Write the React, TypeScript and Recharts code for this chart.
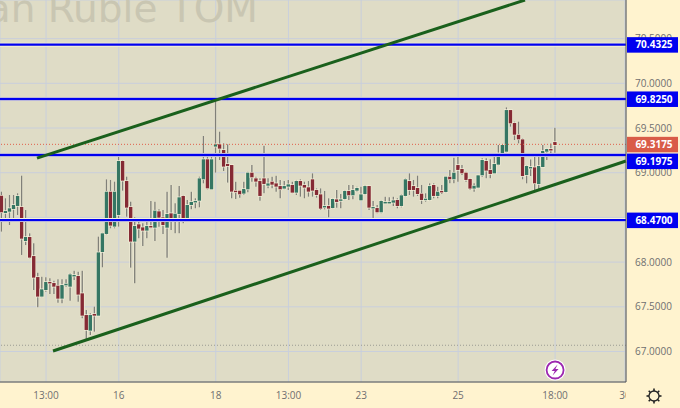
import { Bar, CartesianGrid, ComposedChart, ReferenceDot, ReferenceLine, XAxis, YAxis } from "recharts";

const opens = [
  68.743, 68.549, 68.564, 68.594, 68.628, 68.617, 68.236, 68.281, 68.068, 67.833, 67.614, 67.688, 67.778, 67.766, 67.737, 67.591, 67.74, 67.725, 67.845, 67.845,
  67.651, 67.408, 67.233, 67.42, 67.401, 68.113, 68.315, 68.788, 68.397, 68.527, 69.131, 68.907, 68.617, 68.229, 68.423, 68.389, 68.352, 68.404, 68.385, 68.568,
  68.501, 68.385, 68.546, 68.479, 68.538, 68.74, 68.479, 68.639, 68.673, 68.687, 68.926, 69.15, 68.814, 69.292, 69.318, 69.254, 69.098, 69.086, 68.799, 68.799,
  68.766, 68.814, 69.001, 68.937, 68.907, 68.937, 68.855, 68.9, 68.881, 68.851, 68.822, 68.844, 68.863, 68.777, 68.907, 68.863, 68.837, 68.926, 68.807, 68.758,
  68.613, 68.628, 68.605, 68.702, 68.691, 68.706, 68.796, 68.747, 68.799, 68.691, 68.762, 68.851, 68.602, 68.605, 68.557, 68.665, 68.665, 68.665, 68.695, 68.628,
  68.74, 68.907, 68.851, 68.829, 68.766, 68.699, 68.695, 68.863, 68.74, 68.796, 68.784, 68.956, 68.926, 69.086, 69.042, 69.001, 68.93, 68.822, 68.833, 68.971,
  69.131, 69.031, 68.993, 69.09, 69.21, 69.235, 69.701, 69.556, 69.425, 69.373, 68.974, 69.056, 69.06, 68.873, 69.064, 69.235, 69.265, 69.343,
];
const highs = [
  68.788, 68.714, 68.751, 68.751, 68.77, 68.967, 68.583, 68.322, 68.21, 67.882, 67.837, 67.83, 67.819, 67.792, 67.807, 67.807, 67.807, 67.875, 67.904, 67.893,
  67.904, 67.464, 67.427, 67.502, 68.285, 68.329, 68.926, 68.919, 68.9, 69.18, 69.142, 68.956, 68.676, 68.501, 68.453, 68.434, 68.49, 68.684, 68.676, 68.59,
  68.583, 68.788, 68.863, 68.658, 68.852, 68.751, 68.695, 68.788, 68.714, 68.956, 69.411, 69.217, 69.198, 69.814, 69.459, 69.329, 69.318, 69.086, 68.9, 68.807,
  68.9, 69.012, 69.086, 68.956, 68.937, 69.303, 68.937, 68.956, 68.967, 68.919, 68.907, 68.919, 68.9, 68.919, 68.926, 68.9, 68.907, 68.993, 68.825, 68.825,
  68.796, 68.714, 68.714, 68.807, 68.762, 68.807, 68.863, 68.863, 68.844, 68.844, 68.863, 68.851, 68.684, 68.639, 68.695, 68.732, 68.725, 68.732, 68.714, 68.758,
  68.937, 68.993, 68.919, 68.967, 68.863, 68.77, 68.881, 68.881, 68.844, 68.863, 68.963, 69.031, 69.168, 69.198, 69.086, 69.012, 68.937, 68.881, 68.975, 69.161,
  69.161, 69.15, 69.198, 69.31, 69.318, 69.731, 69.701, 69.571, 69.571, 69.384, 69.086, 69.149, 69.179, 69.187, 69.31, 69.272, 69.328, 69.504,
];
const lows = [
  68.341, 68.471, 68.415, 68.49, 68.527, 68.08, 68.191, 68.042, 67.688, 67.494, 67.606, 67.669, 67.643, 67.643, 67.546, 67.539, 67.725, 67.569, 67.8, 67.558,
  67.371, 67.136, 67.185, 67.222, 67.401, 67.942, 68.303, 68.378, 68.378, 68.397, 68.799, 68.508, 67.938, 67.763, 68.266, 68.18, 68.266, 68.378, 68.236, 68.397,
  68.315, 68.05, 68.359, 68.322, 68.322, 68.434, 68.471, 68.59, 68.602, 68.613, 68.881, 68.814, 68.807, 69.001, 69.142, 69.019, 68.889, 68.714, 68.706, 68.721,
  68.751, 68.781, 68.9, 68.844, 68.687, 68.769, 68.825, 68.825, 68.788, 68.714, 68.814, 68.807, 68.769, 68.751, 68.732, 68.714, 68.732, 68.732, 68.721, 68.583,
  68.59, 68.501, 68.598, 68.609, 68.602, 68.695, 68.695, 68.702, 68.788, 68.684, 68.751, 68.583, 68.479, 68.546, 68.546, 68.65, 68.65, 68.628, 68.602, 68.613,
  68.732, 68.751, 68.732, 68.74, 68.65, 68.676, 68.687, 68.714, 68.714, 68.762, 68.777, 68.881, 68.881, 68.9, 68.975, 68.9, 68.807, 68.788, 68.825, 68.956,
  68.937, 68.937, 68.986, 69.083, 69.18, 69.228, 69.515, 69.366, 69.328, 68.926, 68.881, 68.963, 68.788, 68.817, 69.06, 69.142, 69.217, 69.224,
];
const closes = [
  68.557, 68.572, 68.602, 68.639, 68.74, 68.262, 68.281, 68.05, 67.826, 67.614, 67.696, 67.778, 67.763, 67.725, 67.591, 67.744, 67.759, 67.863, 67.856, 67.636,
  67.401, 67.241, 67.408, 67.401, 68.109, 68.322, 68.788, 68.408, 68.788, 69.131, 68.911, 68.609, 68.229, 68.404, 68.374, 68.352, 68.404, 68.389, 68.576, 68.497,
  68.415, 68.538, 68.479, 68.542, 68.725, 68.479, 68.639, 68.673, 68.684, 68.937, 69.15, 68.825, 69.15, 69.318, 69.269, 69.068, 69.075, 68.788, 68.788, 68.758,
  68.818, 69.001, 68.948, 68.9, 68.74, 68.874, 68.881, 68.866, 68.844, 68.814, 68.851, 68.87, 68.777, 68.907, 68.855, 68.833, 68.788, 68.799, 68.751, 68.598,
  68.628, 68.598, 68.706, 68.673, 68.702, 68.796, 68.747, 68.807, 68.829, 68.758, 68.851, 68.609, 68.617, 68.557, 68.684, 68.673, 68.673, 68.691, 68.628, 68.747,
  68.926, 68.807, 68.807, 68.762, 68.695, 68.71, 68.851, 68.74, 68.788, 68.781, 68.956, 68.926, 69.001, 69.031, 68.993, 68.919, 68.822, 68.855, 68.971, 69.142,
  69.023, 68.986, 69.098, 69.217, 69.31, 69.701, 69.552, 69.425, 69.373, 68.963, 69.075, 69.064, 68.881, 69.075, 69.243, 69.265, 69.257, 69.31,
];

const priceTicks = [67, 67.5, 68, 68.5, 69, 69.5, 70, 70.5];
const timeTicks = [11, 29, 53, 71, 89, 113, 137, 154.3];
const timeLabels = ["13:00", "16", "18", "13:00", "23", "25", "18:00", "30"];
const levels = [70.4325, 69.825, 69.1975, 68.47];
const lastPrice = 69.3175;
const lowMark = 67.07;
const upperTrend = [
  { x: 8.76, y: 69.164 },
  { x: 129.55, y: 70.932 },
];
const lowerTrend = [
  { x: 12.72, y: 67.006 },
  { x: 154.55, y: 69.131 },
];

const candles = opens.map((open, i) => ({
  i,
  open,
  high: highs[i],
  low: lows[i],
  close: closes[i],
  range: [lows[i], highs[i]],
}));

const font = "'Open Sans', sans-serif";
const plotBg = "#dfdcc6";
const panelBg = "#fff3cf";
const halo = "#f3efd9";

function Candle({ x, y, width, height, payload }: any) {
  const { open, high, low, close } = payload;
  const perUnit = height / (high - low);
  const top = y + (high - Math.max(open, close)) * perUnit;
  const bodyH = Math.max(Math.abs(open - close) * perUnit, 1.5);
  const cx = x + width / 2;
  const up = close >= open;
  return (
    <g>
      <line x1={cx} x2={cx} y1={y} y2={y + height} stroke={halo} strokeWidth={2.4} />
      <line x1={cx} x2={cx} y1={y} y2={y + height} stroke="#808079" strokeWidth={1.4} />
      <rect x={cx - 2.3} y={top - 0.7} width={4.6} height={bodyH + 1.4} fill={halo} />
      <rect x={cx - 1.7} y={top} width={3.4} height={bodyH} fill={up ? "#357663" : "#852a34"} />
    </g>
  );
}

function PriceTag({ viewBox, value, fill }: any) {
  // the 69.1975 tag is pushed down by the last price tag above it
  const shift = value === 69.1975 ? 6 : 0;
  const cy = viewBox.y + shift;
  return (
    <g>
      <rect x={627} y={cy - 7.5} width={51} height={15.5} fill={fill} />
      <text x={654} y={cy + 3.8} textAnchor="middle" fill="#fff" fontFamily={font} fontWeight={700} fontSize={10}>
        {value.toFixed(4)}
      </text>
    </g>
  );
}

function TimeTick({ x, y, payload }: any) {
  const label = timeLabels[timeTicks.indexOf(payload.value)];
  return (
    <svg x={0} y={y} width={626} height={24}>
      <text x={x} y={15} textAnchor="middle" fill="#6f6f6f" fontFamily={font} fontSize={10}>
        {label}
      </text>
    </svg>
  );
}

function Bolt({ cx, cy }: any) {
  return (
    <g>
      <circle cx={cx} cy={cy} r={10.5} fill="#fff" />
      <circle cx={cx} cy={cy} r={8.5} fill="#fff" stroke="#9c27b0" strokeWidth={1.8} />
      <path
        d={`M${cx + 2.5} ${cy - 5.5} L${cx - 3.5} ${cy + 1} L${cx - 0.3} ${cy + 1} L${cx - 2.5} ${cy + 5.5} L${cx + 3.5} ${cy - 1} L${cx + 0.3} ${cy - 1} Z`}
        fill="#9c27b0"
      />
    </g>
  );
}

function Gear({ cx, cy }: { cx: number; cy: number }) {
  const rays = [0, 45, 90, 135, 180, 225, 270, 315];
  return (
    <g stroke="#222" fill="none">
      <circle cx={cx} cy={cy} r={5} strokeWidth={1.3} />
      {rays.map((a) => (
        <line
          key={a}
          x1={cx + 5 * Math.cos((a * Math.PI) / 180)}
          y1={cy + 5 * Math.sin((a * Math.PI) / 180)}
          x2={cx + 7.5 * Math.cos((a * Math.PI) / 180)}
          y2={cy + 7.5 * Math.sin((a * Math.PI) / 180)}
          strokeWidth={1.6}
        />
      ))}
    </g>
  );
}

export default function App() {
  return (
    <div style={{ position: "absolute", left: 0, top: 0, width: 680, height: 408, background: panelBg, overflow: "hidden" }}>
      <ComposedChart width={680} height={408} data={candles} margin={{ top: 0, right: 0, bottom: 0, left: 0 }}>
        <CartesianGrid fill={plotBg} stroke="#c9cfdc" strokeWidth={1} />
        <text x={258} y={22} textAnchor="end" fill="#c9c6b2" fontFamily="'DejaVu Sans', sans-serif" fontSize={39}>
          Russian Ruble TOM
        </text>
        <XAxis
          dataKey="i"
          type="number"
          domain={[-0.4, 154.55]}
          ticks={timeTicks}
          interval={0}
          height={26}
          tick={<TimeTick />}
          tickLine={false}
          tickSize={0}
          axisLine={{ stroke: "#55554f" }}
          allowDataOverflow
        />
        <YAxis
          orientation="right"
          width={54}
          domain={[66.659, 70.932]}
          ticks={priceTicks}
          interval={0}
          tickFormatter={(v: number) => v.toFixed(4)}
          tick={{ fill: "#6f6f6f", fontFamily: font, fontSize: 10 }}
          tickLine={false}
          tickSize={0}
          tickMargin={9}
          axisLine={{ stroke: "#55554f" }}
          allowDataOverflow
        />
        <Bar dataKey="range" barSize={5} shape={<Candle />} isAnimationActive={false} />
        <ReferenceLine y={lowMark} stroke="#9a9a92" strokeDasharray="1 2" />
        <ReferenceLine y={lastPrice} stroke="#e0604a" strokeDasharray="1 2" />
        {levels.map((level) => (
          <ReferenceLine key={`halo-${level}`} y={level} stroke="#f7f2d6" strokeWidth={4} />
        ))}
        {levels.map((level) => (
          <ReferenceLine key={level} y={level} stroke="#0000f0" strokeWidth={2.4} />
        ))}
        <ReferenceLine segment={upperTrend} stroke="#1a601c" strokeWidth={3} />
        <ReferenceLine segment={lowerTrend} stroke="#1a601c" strokeWidth={3} />
        <ReferenceDot x={137} y={66.793} shape={<Bolt />} />
        <ReferenceLine
          y={lastPrice}
          stroke="none"
          zIndex={3000}
          label={<PriceTag value={lastPrice} fill="#d95c48" />}
        />
        {levels.map((level) => (
          <ReferenceLine
            key={`tag-${level}`}
            y={level}
            stroke="none"
            zIndex={3000}
            label={<PriceTag value={level} fill="#0000f0" />}
          />
        ))}
        <Gear cx={654} cy={396} />
      </ComposedChart>
    </div>
  );
}
